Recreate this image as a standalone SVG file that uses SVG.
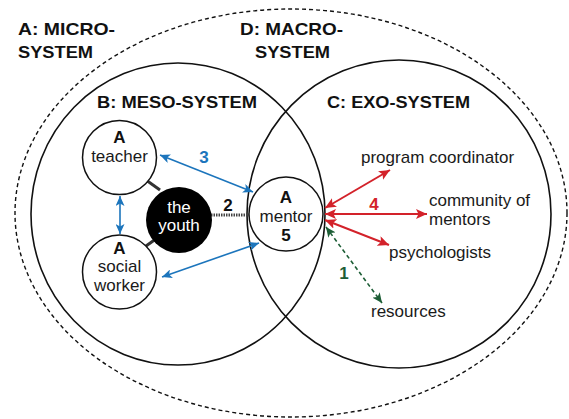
<svg xmlns="http://www.w3.org/2000/svg" width="569" height="419" viewBox="0 0 569 419">
<style>
.sys{fill:none;stroke:#111;stroke-width:1.6}
.dash{fill:none;stroke:#111;stroke-width:1.4;stroke-dasharray:4 3}
.head{font-family:"Liberation Sans",Arial,sans-serif;font-weight:bold;font-size:17px;fill:#111}
.lbl{font-family:"Liberation Sans",Arial,sans-serif;font-size:17px;fill:#1a1a1a}
.bA{font-family:"Liberation Sans",Arial,sans-serif;font-weight:bold;font-size:17px;fill:#111}
.node{fill:#fff;stroke:#111;stroke-width:1.5}
.blue{stroke:#1c75bc;stroke-width:1.6;fill:none}
.red{stroke:#d3222a;stroke-width:2;fill:none}
.green{stroke:#1d5e36;stroke-width:1.6;fill:none;stroke-dasharray:4 3}
.num{font-family:"Liberation Sans",Arial,sans-serif;font-weight:bold;font-size:17px}
</style>
<defs>
<marker id="ab" markerUnits="userSpaceOnUse" markerWidth="11" markerHeight="9" refX="10" refY="4.5" orient="auto-start-reverse"><path d="M0,0 L10,4.5 L0,9 L2.5,4.5 z" fill="#1c75bc"/></marker>
<marker id="ar" markerUnits="userSpaceOnUse" markerWidth="12" markerHeight="10" refX="11" refY="5" orient="auto-start-reverse"><path d="M0,0 L11,5 L0,10 L2.5,5 z" fill="#d3222a"/></marker>
<marker id="ag" markerUnits="userSpaceOnUse" markerWidth="11" markerHeight="9" refX="10" refY="4.5" orient="auto-start-reverse"><path d="M0,0 L10,4.5 L0,9 L2.5,4.5 z" fill="#1d5e36"/></marker>
</defs>
<rect width="569" height="419" fill="#fff"/>
<g id="systems">
<ellipse class="dash" cx="291" cy="213" rx="276" ry="204"/>
<ellipse class="sys" cx="178" cy="214" rx="147" ry="151"/>
<ellipse class="sys" cx="399" cy="214" rx="152" ry="154"/>
<text class="head" x="18" y="35" textLength="97" lengthAdjust="spacingAndGlyphs">A: MICRO-</text>
<text class="head" x="18" y="58" textLength="75" lengthAdjust="spacingAndGlyphs">SYSTEM</text>
<text class="head" x="240" y="35" textLength="103" lengthAdjust="spacingAndGlyphs">D: MACRO-</text>
<text class="head" x="255" y="58" textLength="75" lengthAdjust="spacingAndGlyphs">SYSTEM</text>
<text class="head" x="97" y="108" textLength="160" lengthAdjust="spacingAndGlyphs">B: MESO-SYSTEM</text>
<text class="head" x="327" y="108" textLength="143" lengthAdjust="spacingAndGlyphs">C: EXO-SYSTEM</text>
</g>
<g id="connectors">
<line x1="146" y1="180" x2="160" y2="190" stroke="#333" stroke-width="3"/>
<line x1="146" y1="246" x2="160" y2="236" stroke="#333" stroke-width="3"/>
<line x1="211" y1="215" x2="249" y2="215" stroke="#444" stroke-width="3" stroke-dasharray="1.5 1"/>
<text class="num" x="228" y="211" text-anchor="middle" fill="#111">2</text>
<line class="blue" x1="160" y1="155" x2="253" y2="192" marker-start="url(#ab)" marker-end="url(#ab)"/>
<text class="num" x="204" y="163" text-anchor="middle" fill="#1c75bc">3</text>
<line class="blue" x1="120" y1="196" x2="120" y2="234" marker-start="url(#ab)" marker-end="url(#ab)"/>
<line class="blue" x1="162" y1="277" x2="259" y2="243" marker-start="url(#ab)" marker-end="url(#ab)"/>
<line class="red" x1="325" y1="208" x2="390" y2="170" marker-start="url(#ar)" marker-end="url(#ar)"/>
<line class="red" x1="325" y1="214" x2="427" y2="214" marker-start="url(#ar)" marker-end="url(#ar)"/>
<line class="red" x1="325" y1="220" x2="389" y2="245" marker-start="url(#ar)" marker-end="url(#ar)"/>
<text class="num" x="374" y="210" text-anchor="middle" fill="#d3222a">4</text>
<line class="green" x1="326" y1="227" x2="382" y2="303" marker-start="url(#ag)" marker-end="url(#ag)"/>
<text class="num" x="344" y="279" text-anchor="middle" fill="#1d5e36">1</text>
</g>
<g id="teacher">
<circle class="node" cx="119.5" cy="157.5" r="37"/>
<text class="bA" x="119.5" y="143" text-anchor="middle">A</text>
<text class="lbl" x="119.5" y="162" text-anchor="middle">teacher</text>
</g>
<g id="social-worker">
<circle class="node" cx="119.5" cy="272" r="37"/>
<text class="bA" x="119.5" y="254" text-anchor="middle">A</text>
<text class="lbl" x="119.5" y="272" text-anchor="middle">social</text>
<text class="lbl" x="119.5" y="291" text-anchor="middle">worker</text>
</g>
<g id="youth">
<circle cx="179" cy="220" r="33" fill="#000"/>
<text class="lbl" x="179" y="213" text-anchor="middle" style="fill:#fff">the</text>
<text class="lbl" x="179" y="231" text-anchor="middle" style="fill:#fff">youth</text>
</g>
<g id="mentor">
<circle class="node" cx="286" cy="214" r="37"/>
<text class="bA" x="286" y="203" text-anchor="middle">A</text>
<text class="lbl" x="286" y="222" text-anchor="middle">mentor</text>
<text class="bA" x="286" y="241" text-anchor="middle">5</text>
</g>
<g id="program-coordinator"><text class="lbl" x="361" y="163">program coordinator</text></g>
<g id="community"><text class="lbl" x="429" y="206">community of</text><text class="lbl" x="429" y="225">mentors</text></g>
<g id="psychologists"><text class="lbl" x="389" y="258">psychologists</text></g>
<g id="resources"><text class="lbl" x="371" y="317">resources</text></g>
</svg>
